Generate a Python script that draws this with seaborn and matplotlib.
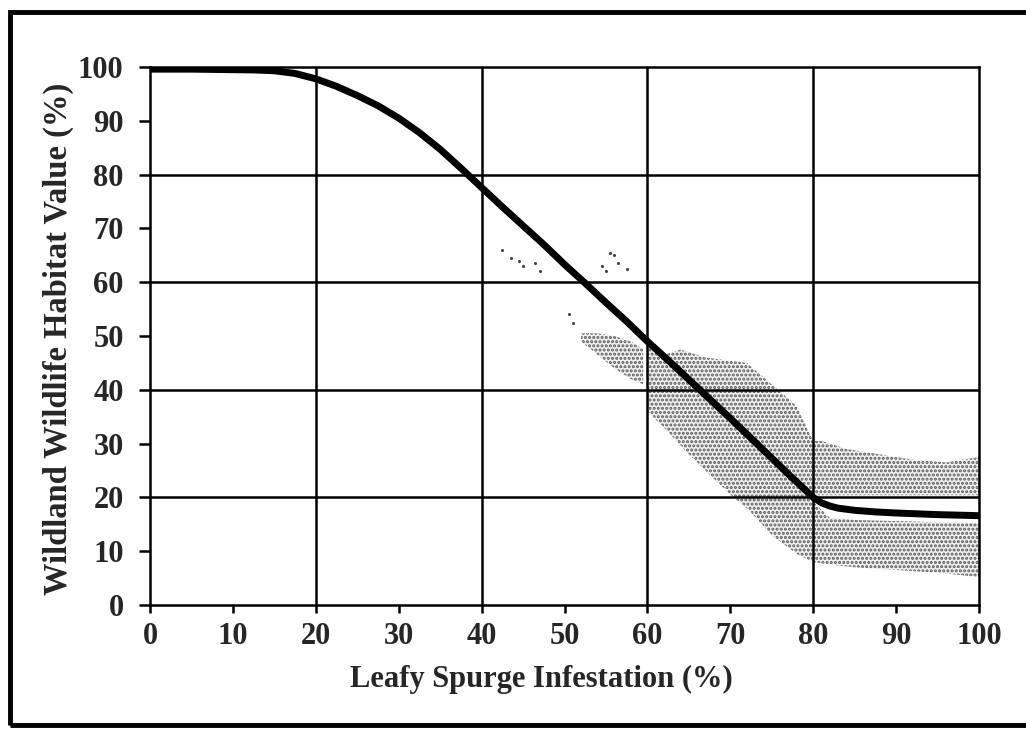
import matplotlib.pyplot as plt
import matplotlib.patches as mpatches
import pandas as pd
import seaborn as sns

# Main response curve
infestation = [0, 5, 10, 12.5, 15, 17.5, 20, 22.5, 25, 27.5, 30, 32.5, 35, 37.5, 40, 42.5, 45,
               47.5, 50, 52.5, 55, 57.5, 60, 62.5, 65, 67.5, 70, 72.5, 75, 77.5, 80, 81, 82,
               83, 85, 87.5, 90, 95, 100]
habitat_value = [99.6, 99.6, 99.5, 99.45, 99.3, 98.8, 97.8, 96.4, 94.7, 92.8, 90.5, 87.8, 84.7,
                 81.2, 77.6, 74.0, 70.5, 67.0, 63.3, 59.8, 56.2, 52.7, 49.0, 45.5, 41.9, 38.3,
                 34.7, 31.0, 27.3, 23.6, 20.0, 19.0, 18.4, 18.0, 17.6, 17.3, 17.1, 16.8, 16.6]

# Stippled band above the curve
upper_x = [62, 64, 67, 72, 75, 78, 79.5, 80, 81, 84, 88, 92, 96, 100]
upper_hi = [46.5, 47.5, 46, 45, 41, 37, 32, 30.5, 30.5, 29, 28, 27, 26.5, 27.5]
upper_lo = [45.6, 42.9, 38.7, 31.5, 27.3, 22.5, 20.6, 20.4, 20.4, 20.4, 20.4, 20.4, 20.4, 20.4]

# Stippled band below the curve
lower_x = [60, 62, 65, 68, 70, 72, 75, 78, 80, 82, 85, 90, 95, 100]
lower_hi = [48.2, 45.5, 41.3, 37, 34, 31, 26.5, 22.3, 19.2, 16.2, 15.8, 15.6, 15.4, 15.2]
lower_lo = [36, 33, 28, 23.5, 20.5, 18, 13, 9.5, 8, 7.5, 7, 6.5, 6, 5.2]

# Small stippled patch just below the curve
patch_x = [52, 54, 56, 58, 59.5]
patch_hi = [50.5, 50.5, 50, 49, 47.5]
patch_lo = [49, 46.5, 44, 42, 41]

# Loose dots above the curve
dots_x = [42.5, 43.5, 44.5, 45, 46.5, 47, 54.5, 55.5, 56, 56.5, 57.5, 55, 51, 50.5]
dots_y = [66, 64.5, 64, 63, 63.5, 62, 63, 65.5, 65, 63.5, 62.5, 62, 52.5, 54]

x_ticks = [0, 10, 20, 30, 40, 50, 60, 70, 80, 90, 100]
y_ticks = [0, 10, 20, 30, 40, 50, 60, 70, 80, 90, 100]
grid_vals = [20, 40, 60, 80]

sns.set_style("ticks")
plt.rcParams['font.family'] = ['Liberation Serif', 'DejaVu Serif']
plt.rcParams['font.weight'] = 'bold'
plt.rcParams['hatch.linewidth'] = 1.5
plt.rcParams['hatch.color'] = '#5a5a5a'

df = pd.DataFrame({'x': infestation, 'y': habitat_value})

fig = plt.figure(figsize=(10.26, 7.29), dpi=100)
ax = fig.add_axes([0.1462, 0.1701, 0.808, 0.738])

stipple = dict(facecolor='#f0f0f0', edgecolor='#5a5a5a', hatch='....', linewidth=0, zorder=1)
ax.fill_between(upper_x, upper_lo, upper_hi, **stipple)
ax.fill_between(lower_x, lower_lo, lower_hi, **stipple)
ax.fill_between(patch_x, patch_lo, patch_hi, **stipple)
sns.scatterplot(x=dots_x, y=dots_y, ax=ax, color='#444444', s=5, linewidth=0, zorder=1)

for g in grid_vals:
    ax.axhline(g, color='black', lw=1.8, zorder=2)
    ax.axvline(g, color='black', lw=1.8, zorder=2)

sns.lineplot(data=df, x='x', y='y', ax=ax, color='black', lw=5, zorder=3,
             solid_joinstyle='round', solid_capstyle='butt')

ax.set_xlim(0, 100)
ax.set_ylim(0, 100)
ax.set_xticks(x_ticks)
ax.set_yticks(y_ticks)
ax.set_xticklabels([str(t) for t in x_ticks])
ax.set_yticklabels([str(t) for t in y_ticks])
ax.tick_params(direction='out', width=1.8, labelsize=22, color='black')
ax.tick_params(axis='x', length=6, pad=6)
ax.tick_params(axis='y', length=8, pad=11)
for s in ax.spines.values():
    s.set_linewidth(1.8)
    s.set_color('black')

ax.set_xlabel('Leafy Spurge Infestation (%)', fontsize=22, fontweight='bold')
ax.set_ylabel('Wildland Wildlife Habitat Value (%)', fontsize=23.5, fontweight='bold')
ax.xaxis.set_label_coords(0.472, -0.112)
ax.yaxis.set_label_coords(-0.092, 0.495)

# outer frame around the whole figure
frame = mpatches.Rectangle((0.0097, 0.0055), 1.2, 0.978, transform=fig.transFigure,
                           fill=False, edgecolor='black', lw=3.5, clip_on=False)
fig.patches.append(frame)

fig.savefig('out.png', dpi=100)
